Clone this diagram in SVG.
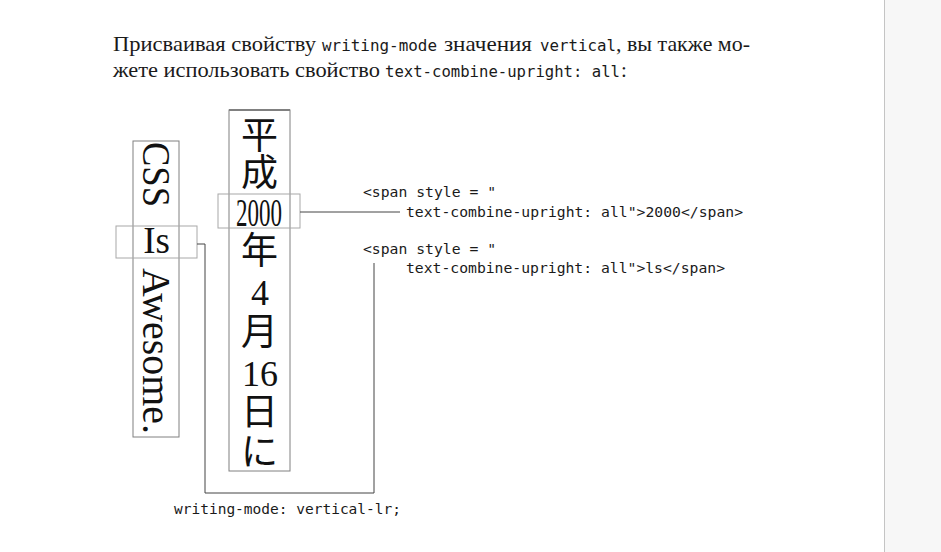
<svg xmlns="http://www.w3.org/2000/svg" width="941" height="552" viewBox="0 0 941 552">
<style>
.ser{font-family:"Liberation Serif","Noto Sans CJK JP",serif;fill:#1a1a1a}
.mono{font-family:"DejaVu Sans Mono","Liberation Mono",monospace;fill:#1a1a1a}
.cjk{font-family:"Noto Sans CJK JP",sans-serif;fill:#111;font-size:37px}
.big{font-family:"Liberation Serif",serif;fill:#111}
.box{fill:none;stroke:#808080;stroke-width:1}
.hl{fill:none;stroke:#a8a8a8;stroke-width:1}
.conn{fill:none;stroke:#444;stroke-width:1}
</style>
<rect x="0" y="0" width="941" height="552" fill="#ffffff"/>
<rect x="885" y="0" width="56" height="552" fill="#f7f7f7"/>
<line x1="884.5" y1="0" x2="884.5" y2="552" stroke="#c4c4c4" stroke-width="1"/>

<g id="intro">
<text class="ser" x="113" y="51" font-size="21" textLength="203" lengthAdjust="spacingAndGlyphs">Присваивая свойству</text>
<text class="mono" x="322" y="51" font-size="15.5" textLength="115" lengthAdjust="spacingAndGlyphs">writing-mode</text>
<text class="ser" x="444" y="51" font-size="21" textLength="88" lengthAdjust="spacingAndGlyphs">значения</text>
<text class="mono" x="540" y="51" font-size="15.5" textLength="76" lengthAdjust="spacingAndGlyphs">vertical</text>
<text class="ser" x="616" y="51" font-size="21" textLength="134" lengthAdjust="spacingAndGlyphs">, вы также мо-</text>
<text class="ser" x="113" y="77" font-size="21" textLength="267" lengthAdjust="spacingAndGlyphs">жете использовать свойство</text>
<text class="mono" x="385" y="77" font-size="15.5" textLength="235" lengthAdjust="spacingAndGlyphs">text-combine-upright: all</text>
<text class="ser" x="621" y="77" font-size="21">:</text>
</g>

<g id="node-css">
<rect class="box" x="133" y="141" width="46" height="296"/>
<text class="big" font-size="39" transform="translate(143,142) rotate(90)" textLength="65" lengthAdjust="spacingAndGlyphs">CSS</text>
<text class="big" font-size="39" transform="translate(143,268) rotate(90)" textLength="166" lengthAdjust="spacingAndGlyphs">Awesome.</text>
<text class="big" font-size="37" x="156.5" y="253" text-anchor="middle">Is</text>
<rect class="hl" x="116" y="226" width="81" height="32"/>
</g>

<g id="node-heisei">
<rect class="box" x="229" y="110" width="61" height="361"/>
<line x1="229" y1="110" x2="290" y2="110" stroke="#808080" stroke-width="2"/>
<text class="cjk" x="259.5" y="149" text-anchor="middle">平</text>
<text class="cjk" x="259.5" y="186" text-anchor="middle">成</text>
<text class="big" font-size="40" x="236" y="226" textLength="46" lengthAdjust="spacingAndGlyphs">2000</text>
<rect class="hl" x="218" y="194" width="82" height="34"/>
<text class="cjk" x="259.5" y="264" text-anchor="middle">年</text>
<text class="big" font-size="36" x="260" y="305" text-anchor="middle">4</text>
<text class="cjk" x="259.5" y="345" text-anchor="middle">月</text>
<text class="big" font-size="36" x="260" y="386" text-anchor="middle">16</text>
<text class="cjk" x="259.5" y="425" text-anchor="middle">日</text>
<text class="cjk" x="259.5" y="465" text-anchor="middle">に</text>
</g>

<g id="connectors">
<line class="conn" x1="300" y1="212" x2="400" y2="212"/>
<polyline class="conn" points="197,244 205,244 205,493 374,493 374,263"/>
</g>

<g id="labels">
<text class="mono" x="363" y="197" font-size="14" textLength="133" lengthAdjust="spacingAndGlyphs">&lt;span style = "</text>
<text class="mono" x="406" y="217" font-size="14" textLength="337" lengthAdjust="spacingAndGlyphs">text-combine-upright: all"&gt;2000&lt;/span&gt;</text>
<text class="mono" x="363" y="254" font-size="14" textLength="133" lengthAdjust="spacingAndGlyphs">&lt;span style = "</text>
<text class="mono" x="406" y="273" font-size="14" textLength="319" lengthAdjust="spacingAndGlyphs">text-combine-upright: all"&gt;ls&lt;/span&gt;</text>
<text class="mono" x="174" y="514" font-size="14" textLength="227" lengthAdjust="spacingAndGlyphs">writing-mode: vertical-lr;</text>
</g>
</svg>
